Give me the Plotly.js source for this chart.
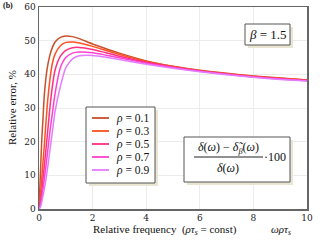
<!DOCTYPE html>
<html><head><meta charset="utf-8">
<script src="https://cdn.plot.ly/plotly-3.0.1.min.js"></script>
<style>html,body{margin:0;padding:0;background:#fff}#c{width:320px;height:240px}</style>
</head><body><div id="c"></div>
<script>
// ---- data ----
const freq = [0, 0.05, 0.1, 0.15, 0.2, 0.3, 0.4, 0.5, 0.6, 0.8, 1.0, 1.25, 1.5, 2, 2.5, 3, 4, 5, 6, 7, 8, 9, 10];
const rhoLabels = ["0.1", "0.3", "0.5", "0.7", "0.9"];
const err_rho01 = [0, 10, 20, 27, 34, 41.5, 45.5, 48, 49.6, 51.0, 51.4, 51.2, 50.6, 49.0, 47.6, 46.3, 44.0, 42.4, 41.2, 40.3, 39.5, 38.9, 38.3];
const err_rho03 = [0, 4, 9, 14, 19, 30, 38, 43.3, 46.0, 48.5, 49.5, 49.6, 49.3, 48.3, 47.1, 45.9, 43.8, 42.3, 41.1, 40.2, 39.4, 38.8, 38.3];
const err_rho05 = [0, 2, 5, 9, 13, 21, 29.5, 36.5, 41.3, 45.4, 47.1, 47.9, 48.0, 47.4, 46.4, 45.4, 43.6, 42.2, 41.0, 40.1, 39.3, 38.7, 38.2];
const err_rho07 = [0, 1, 3, 6, 9, 15.5, 22.5, 28.5, 34.3, 42, 45, 46.3, 46.6, 46.4, 45.7, 44.9, 43.3, 42.0, 40.9, 40.0, 39.2, 38.6, 38.1];
const err_rho09 = [0, 0.5, 2, 4, 6, 11, 17, 23, 29, 36.5, 42, 44.6, 45.5, 45.6, 45.1, 44.4, 43.0, 41.8, 40.8, 39.9, 39.1, 38.5, 38.0];
const series = [err_rho01, err_rho03, err_rho05, err_rho07, err_rho09];
const xTicks = [0, 2, 4, 6, 8, 10];
const yTicks = [0, 10, 20, 30, 40, 50, 60];

// ---- style ----
const colors = ["#c8502a", "#ff5020", "#ff3080", "#ff40d0", "#e47cff"];
const serif = "Times New Roman";
const serif2 = "DejaVu Serif";
const L = 39, R = 307, T = 7, B = 209;
const PX = p => (p - L) / (R - L);
const PY = p => (B - p) / (B - T);

const traces = series.map((ys, i) => ({
  x: freq, y: ys, type: "scatter", mode: "lines",
  line: {color: colors[i], width: 1.5, shape: "spline", smoothing: 0.6},
  showlegend: false, hoverinfo: "skip"
}));

const shapes = [];
const annotations = [];
function box(x0, y0, x1, y1) {
  shapes.push({type: "rect", xref: "paper", yref: "paper", x0: PX(x0 + 3), x1: PX(x1 + 3), y0: PY(y0 + 3), y1: PY(y1 + 3), fillcolor: "#e9e5d3", line: {width: 0}, layer: "above"});
  shapes.push({type: "rect", xref: "paper", yref: "paper", x0: PX(x0), x1: PX(x1), y0: PY(y0), y1: PY(y1), fillcolor: "#fff", line: {color: "#555", width: 1}, layer: "above"});
}
function txt(x, y, text, size, xanchor, extra) {
  annotations.push(Object.assign({xref: "paper", yref: "paper", x: PX(x), y: PY(y), text: text, showarrow: false,
    xanchor: xanchor || "center", yanchor: "middle", borderpad: 0, font: {family: serif, size: size, color: "#111"}}, extra || {}));
}

// legend
box(86, 107, 155, 183);
const legY = [118, 131, 144, 157, 170];
rhoLabels.forEach((lab, i) => {
  shapes.push({type: "line", xref: "paper", yref: "paper", x0: PX(92), x1: PX(109), y0: PY(legY[i]), y1: PY(legY[i]), line: {color: colors[i], width: 1.8}, layer: "above"});
  txt(115, legY[i], "<i>ρ</i> = " + lab, 11.5, "left");
});

// beta box
box(245, 24, 290, 45);
txt(267.5, 34.5, "<i>β</i> = 1.5", 13, "center");

// formula box
box(184, 137, 290, 182);
txt(228, 147.5, "<i>δ</i>(<i>ω</i>) − <i>δ̃</i><sub><i>β</i></sub>(<i>ω</i>)", 12, "center");
shapes.push({type: "line", xref: "paper", yref: "paper", x0: PX(194), x1: PX(263), y0: PY(157), y1: PY(157), line: {color: "#222", width: 1}, layer: "above"});
txt(228, 167.5, "<i>δ</i>(<i>ω</i>)", 12, "center");
txt(263, 157, "·100", 12, "left");

// axis titles
txt(165, 230, "Relative frequency  (<i>ρτ</i><sub><i>s</i></sub> = const)", 11, "center");
txt(281, 230, "<i>ωρτ</i><sub><i>s</i></sub>", 11, "center");
txt(12, 108, "Relative error, %", 11, "center", {textangle: -90});
txt(2, 6, "<b>(b)</b>", 8, "left");

const axisCommon = {showline: true, mirror: true, linecolor: "#666", linewidth: 1.5, gridcolor: "#ececec", gridwidth: 1,
  zeroline: false, ticks: "", tickfont: {family: serif2, size: 9, color: "#222"}, fixedrange: true};

const layout = {
  width: 320, height: 240,
  margin: {l: L, r: 320 - R, t: T, b: 240 - B, pad: 0},
  paper_bgcolor: "#fff", plot_bgcolor: "#fff",
  font: {family: serif},
  showlegend: false,
  xaxis: Object.assign({}, axisCommon, {range: [0, 10], tickvals: xTicks}),
  yaxis: Object.assign({}, axisCommon, {range: [0, 60], tickvals: yTicks}),
  shapes: shapes, annotations: annotations
};
Plotly.newPlot("c", traces, layout, {staticPlot: true, displayModeBar: false});
</script></body></html>
